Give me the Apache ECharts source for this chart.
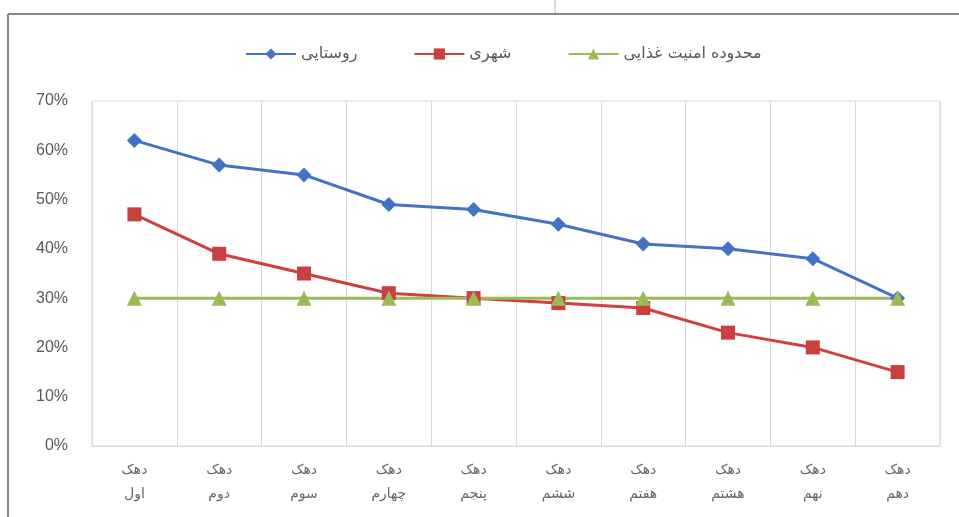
<!DOCTYPE html>
<html>
<head>
<meta charset="utf-8">
<script src="https://cdn.jsdelivr.net/npm/echarts@6/dist/echarts.min.js"></script>
<style>
html,body{margin:0;padding:0;background:#fff;}
#c{width:959px;height:517px;}
</style>
</head>
<body>
<div id="c"></div>
<script>
const categories = ['دهک\nاول','دهک\nدوم','دهک\nسوم','دهک\nچهارم','دهک\nپنجم','دهک\nششم','دهک\nهفتم','دهک\nهشتم','دهک\nنهم','دهک\nدهم'];
const rural = [62, 57, 55, 49, 48, 45, 41, 40, 38, 30];
const urban = [47, 39, 35, 31, 30, 29, 28, 23, 20, 15];
const foodSecurity = [30, 30, 30, 30, 30, 30, 30, 30, 30, 30];
const seriesNames = ['روستایی', 'شهری', 'محدوده امنیت غذایی'];
const yTicks = [0, 10, 20, 30, 40, 50, 60, 70];

const chart = echarts.init(document.getElementById('c'), null, {renderer: 'canvas'});
const font = '"DejaVu Sans", "Noto Sans", sans-serif';
chart.setOption({
  animation: false,
  backgroundColor: '#fff',
  graphic: [
    {type: 'line', shape: {x1: 8, y1: 14, x2: 959, y2: 14}, style: {stroke: '#888', lineWidth: 2}, z: 10},
    {type: 'line', shape: {x1: 8, y1: 14, x2: 8, y2: 517}, style: {stroke: '#888', lineWidth: 2}, z: 10},
    {type: 'line', shape: {x1: 555, y1: 0, x2: 555, y2: 13}, style: {stroke: '#bbb', lineWidth: 1}, z: 10}
  ],
  legend: {
    top: 41,
    left: 240,
    itemWidth: 50,
    itemHeight: 14,
    itemGap: 56,
    textStyle: {fontFamily: font, fontSize: 16, color: '#595959'},
    data: seriesNames
  },
  grid: {left: 92, right: 19, top: 101, bottom: 71, containLabel: false,
         show: true, borderColor: '#d9d9d9', borderWidth: 1},
  xAxis: {
    type: 'category',
    data: categories,
    boundaryGap: true,
    axisLine: {show: true, lineStyle: {color: '#d9d9d9'}},
    axisTick: {show: false},
    splitLine: {show: true, interval: 0, lineStyle: {color: '#d9d9d9'}},
    axisLabel: {interval: 0, fontFamily: font, fontSize: 14, color: '#666', lineHeight: 24, margin: 12}
  },
  yAxis: {
    type: 'value',
    min: 0, max: 70, interval: 10,
    axisLine: {show: false},
    axisTick: {show: false},
    splitLine: {show: false},
    axisLabel: {fontFamily: '"Liberation Sans", Arial, sans-serif', fontSize: 16, color: '#595959', margin: 24,
      formatter: v => yTicks.includes(v) ? v + '%' : ''}
  },
  series: [
    {name: seriesNames[0], type: 'line', data: rural, symbol: 'diamond', symbolSize: 15,
     lineStyle: {width: 3, color: '#4472C4'}, itemStyle: {color: '#4472C4'}},
    {name: seriesNames[1], type: 'line', data: urban, symbol: 'rect', symbolSize: 14,
     lineStyle: {width: 3, color: '#D23F3F'}, itemStyle: {color: '#C9403E'}},
    {name: seriesNames[2], type: 'line', data: foodSecurity, symbol: 'triangle', symbolSize: 15,
     lineStyle: {width: 3, color: '#9BBB59'}, itemStyle: {color: '#9BBB59'}}
  ]
});
</script>
</body>
</html>
